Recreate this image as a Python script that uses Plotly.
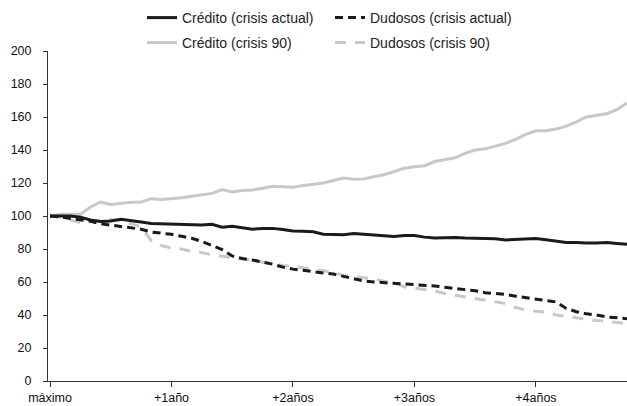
import plotly.graph_objects as go

months = list(range(58))

tick_vals = [0, 12, 24, 36, 48]
tick_text = ["máximo", "+1año", "+2años", "+3años", "+4años"]

credito_actual = [
    100, 100.2, 100, 99.3, 97.6, 96.6, 97, 98, 97, 96.3,
    95.5, 95.3, 95.5, 95.3, 95, 94.5, 95, 93.2, 93.8, 93,
    92, 92.5, 92.5, 91.8, 90.9, 90.7, 90.4, 89, 88.8, 88.6,
    89.4, 89, 88.5, 88.2, 87.6, 88.2, 88.2, 87.2, 86.6, 86.8,
    87, 86.7, 86.5, 86.5, 86.2, 85.5, 85.8, 86.3, 86.3, 85.6,
    84.6, 84, 84, 83.6, 83.7, 84, 83.4, 82.8,
]

dudosos_actual = [
    100, 99.5, 98.5, 97.8, 96.8, 95.3, 94.5, 93.5, 92.8, 92,
    90.3, 89.6, 88.9, 87.7, 86.5, 84.6, 82.2, 79.6, 75.8, 74.2,
    73.3, 72, 70.8, 69, 67.8, 67.1, 66.5, 65.5, 64.8, 63.5,
    61.9, 60.6, 60, 59.6, 59.2, 59, 58.8, 58.4, 57.6, 56.8,
    56.2, 55.4, 54.7, 53.5, 53, 52.5, 51.4, 50.6, 49.9, 48.7,
    47.9, 44, 42, 40.7, 40, 38.8, 38.3, 37.8,
]

credito_90 = [
    100, 101, 101, 101, 105.5, 108.5, 107, 107.8, 108.4, 108.5,
    110.5, 110, 110.5, 111, 112, 112.7, 113.7, 116, 114.5, 115.5,
    115.8, 116.8, 118, 117.8, 117.5, 118.5, 119.3, 120, 121.5, 123,
    122.3, 122.5, 123.8, 125, 127, 129, 129.9, 130.5, 133, 134.2,
    135.3, 138, 140, 140.7, 142.3, 144, 146.5, 149.5, 151.6, 151.7,
    152.7, 154.5, 157, 160, 161, 162, 164.5, 168.5,
]

dudosos_90 = [
    100, 99.3, 97.5, 96, 97, 97.6, 97.8, 97.2, 95.5, 93.5,
    85, 82, 80.6, 80, 78.5, 77.8, 76.5, 75.5, 74.8, 74,
    73, 72.3, 71, 70, 69.5, 68.5, 67.7, 66.8, 66, 63.8,
    63.3, 62.5, 61.8, 60.5, 59.5, 57, 56.3, 55.4, 54.7, 53,
    52, 51, 49.7, 49, 48, 47, 44.5, 43, 42.2, 41.8,
    40, 39.2, 38, 37.4, 36.6, 36.2, 35.5, 34.8,
]

BLACK = "#1a1a1a"
GRAY = "#c8c8c8"

fig = go.Figure()
# gray series first so the black ones sit on top
fig.add_trace(go.Scatter(x=months, y=credito_90, mode="lines", name="Crédito (crisis 90)",
                         line=dict(color=GRAY, width=3), legend="legend2"))
fig.add_trace(go.Scatter(x=months, y=dudosos_90, mode="lines", name="Dudosos (crisis 90)",
                         line=dict(color=GRAY, width=3, dash="11px,9px"), legend="legend2"))
fig.add_trace(go.Scatter(x=months, y=credito_actual, mode="lines", name="Crédito (crisis actual)",
                         line=dict(color=BLACK, width=3), legend="legend"))
fig.add_trace(go.Scatter(x=months, y=dudosos_actual, mode="lines", name="Dudosos (crisis actual)",
                         line=dict(color=BLACK, width=3, dash="8px,5px"), legend="legend"))

legend_style = dict(
    orientation="h", xref="container", yref="container",
    x=142 / 627, xanchor="left", yanchor="middle",
    font=dict(family="Liberation Sans", size=14, color="#222"),
    itemwidth=30, entrywidth=143, tracegroupgap=0,
    bgcolor="rgba(0,0,0,0)",
)

fig.update_layout(
    width=627, height=406,
    margin=dict(l=48, r=0, t=51, b=25, autoexpand=False),
    paper_bgcolor="white", plot_bgcolor="white",
    font=dict(family="Liberation Sans", size=12.5, color="#111"),
    legend=dict(legend_style, y=1 - 18 / 406, traceorder="normal"),
    legend2=dict(legend_style, y=1 - 43 / 406, traceorder="normal"),
    xaxis=dict(
        range=[-0.2, 57], tickvals=tick_vals, ticktext=tick_text,
        showgrid=False, zeroline=False, showline=True, linecolor="#333", linewidth=1,
        ticks="outside", ticklen=5, tickcolor="#333",
    ),
    yaxis=dict(
        range=[0, 200], dtick=20, showgrid=False, zeroline=False,
        showline=True, linecolor="#333", linewidth=1,
        ticks="outside", ticklen=4, tickcolor="#333", ticklabelstandoff=9,
    ),
)

fig.write_html("out.html", config={"displayModeBar": False},
               post_script="document.body.style.margin='0';")
